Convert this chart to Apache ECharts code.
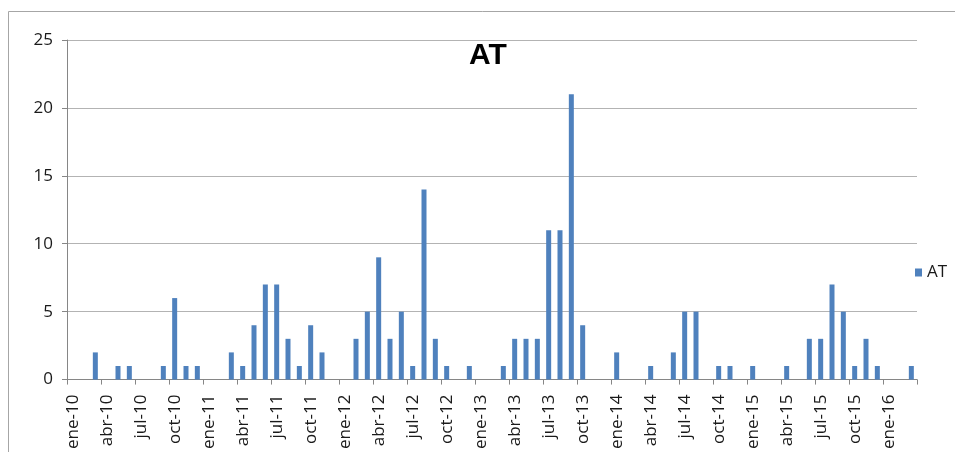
<!DOCTYPE html>
<html>
<head>
<meta charset="utf-8">
<script src="https://cdn.jsdelivr.net/npm/echarts@6/dist/echarts.min.js"></script>
<style>
    html, body { margin: 0; padding: 0; background: #ffffff; }
    #chart { width: 955px; height: 452px; }
</style>
</head>
<body>
<div id="chart"></div>
<script>
    // meses ene-10 .. mar-16
    var months = ['ene', 'feb', 'mar', 'abr', 'may', 'jun', 'jul', 'ago', 'sep', 'oct', 'nov', 'dic'];
    var years = ['10', '11', '12', '13', '14', '15', '16'];
    var categories = [];
    years.forEach(function (y) {
        months.forEach(function (m) {
            categories.push(m + '-' + y);
        });
    });
    categories = categories.slice(0, 75);

    // valores AT por mes
    var atValues = [
        0, 0, 2, 0, 1, 1, 0, 0, 1, 6, 1, 1,      // 2010
        0, 0, 2, 1, 4, 7, 7, 3, 1, 4, 2, 0,      // 2011
        0, 3, 5, 9, 3, 5, 1, 14, 3, 1, 0, 1,     // 2012
        0, 0, 1, 3, 3, 3, 11, 11, 21, 4, 0, 0,   // 2013
        2, 0, 0, 1, 0, 2, 5, 5, 0, 1, 1, 0,      // 2014
        1, 0, 0, 1, 0, 3, 3, 7, 5, 1, 3, 1,      // 2015
        0, 0, 1                                  // 2016
    ];
    var yTicks = [0, 5, 10, 15, 20, 25];

    var myChart = echarts.init(document.getElementById('chart'));
    var option = {
        backgroundColor: '#ffffff',
        animation: false,
        title: {
            text: 'AT',
            left: 464,
            top: 36,
            textStyle: {
                fontFamily: 'Liberation Sans',
                fontWeight: 'bold',
                fontSize: 30,
                color: '#000000'
            }
        },
        legend: {
            data: ['AT'],
            left: 910,
            top: 259,
            orient: 'vertical',
            itemWidth: 7,
            itemHeight: 8,
            itemGap: 6,
            icon: 'rect',
            textStyle: {
                fontFamily: 'Open Sans',
                fontSize: 17,
                color: '#1a1a1a'
            }
        },
        grid: {
            left: 67,
            right: 38,
            top: 40,
            bottom: 72,
            containLabel: false
        },
        graphic: [{
            // marco exterior del gráfico
            type: 'rect',
            shape: { x: 8.5, y: 11.5, width: 1000, height: 500 },
            style: { fill: 'none', stroke: '#a6a6a6', lineWidth: 1 },
            silent: true
        }],
        xAxis: {
            type: 'category',
            data: categories,
            boundaryGap: true,
            axisLine: { lineStyle: { color: '#868686', width: 1 } },
            axisTick: { show: true, interval: 2, length: 5, lineStyle: { color: '#868686' } },
            axisLabel: {
                interval: 2,
                rotate: 90,
                margin: 15,
                fontFamily: 'Open Sans',
                fontSize: 17,
                color: '#1a1a1a'
            },
            splitLine: { show: false }
        },
        yAxis: {
            type: 'value',
            min: yTicks[0],
            max: yTicks[yTicks.length - 1],
            interval: 5,
            axisLine: { show: true, lineStyle: { color: '#868686', width: 1 } },
            axisTick: { show: true, length: 5, lineStyle: { color: '#868686' } },
            axisLabel: {
                margin: 14,
                fontFamily: 'Open Sans',
                fontSize: 17,
                color: '#1a1a1a'
            },
            splitLine: { show: true, lineStyle: { color: '#b3b3b3', width: 1 } }
        },
        series: [{
            name: 'AT',
            type: 'bar',
            data: atValues,
            barWidth: 5,
            itemStyle: { color: '#4f81bd' }
        }]
    };
    myChart.setOption(option);
    window.addEventListener('resize', function () {
        myChart.resize();
    });
</script>
</body>
</html>
